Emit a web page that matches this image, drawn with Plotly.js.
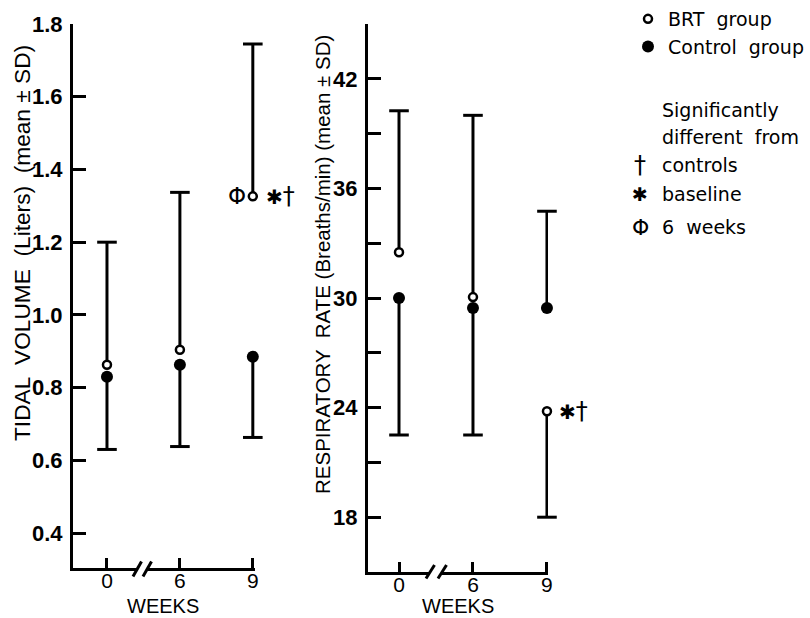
<!DOCTYPE html>
<html><head><meta charset="utf-8">
<script src="https://cdn.plot.ly/plotly-3.0.1.min.js"></script>
<style>html,body{margin:0;padding:0;background:#fff}</style>
</head><body><div id="chart" style="width:810px;height:618px"></div>
<script>
// ---- data ----
const weekLabels = ['0', '6', '9'];
const weekPos = [0, 1, 2];

// Tidal volume (Liters), mean and the SD drawn on one side (+1 up, -1 down)
const tvBrtMean = [0.863, 0.904, 1.326];
const tvBrtSd   = [0.337, 0.433, 0.419];
const tvBrtDir  = [1, 1, 1];
const tvCtlMean = [0.830, 0.863, 0.885];
const tvCtlSd   = [0.200, 0.225, 0.222];
const tvCtlDir  = [-1, -1, -1];
const tvTicks   = [0.4, 0.6, 0.8, 1.0, 1.2, 1.4, 1.6, 1.8];

// Respiratory rate (Breaths/min)
const rrBrtMean = [32.5, 30.05, 23.8];
const rrBrtSd   = [7.75, 9.95, 5.8];
const rrBrtDir  = [1, 1, -1];
const rrCtlMean = [30.0, 29.45, 29.45];
const rrCtlSd   = [7.5, 6.95, 5.3];
const rrCtlDir  = [-1, -1, 1];
const rrTicks   = [18, 21, 24, 27, 30, 33, 36, 39, 42, 45];
const rrTickText = ['18', '', '24', '', '30', '', '36', '', '42', ''];

// ---- helpers ----
const W = 810, H = 618;
const px = v => v / W;
const py = v => 1 - v / H;
const up = (sd, dir) => sd.map((s, i) => dir[i] > 0 ? s : 0);
const dn = (sd, dir) => sd.map((s, i) => dir[i] < 0 ? s : 0);
const ends = (m, sd, dir) => m.map((v, i) => v + dir[i] * sd[i]);

function errY(sd, dir) {
  return {type: 'data', symmetric: false, array: up(sd, dir), arrayminus: dn(sd, dir),
          width: 0, thickness: 3, color: 'black'};
}
function panel(xa, ya, brtM, brtS, brtD, ctlM, ctlS, ctlD, legend) {
  return [
    {x: weekPos.concat(weekPos), y: ends(brtM, brtS, brtD).concat(ends(ctlM, ctlS, ctlD)),
     xaxis: xa, yaxis: ya, type: 'scatter', mode: 'markers', showlegend: false, hoverinfo: 'skip',
     cliponaxis: false, marker: {symbol: 'line-ew', size: 14, line: {width: 3, color: 'black'}}},
    {x: weekPos, y: ctlM, xaxis: xa, yaxis: ya, type: 'scatter', mode: 'markers', cliponaxis: false,
     name: 'Control  group', showlegend: legend, legendrank: 2, error_y: errY(ctlS, ctlD),
     marker: {symbol: 'circle', size: 12, color: 'black', line: {width: 0}}},
    {x: weekPos, y: brtM, xaxis: xa, yaxis: ya, type: 'scatter', mode: 'markers', cliponaxis: false,
     name: 'BRT  group', showlegend: legend, legendrank: 1, error_y: errY(brtS, brtD),
     marker: {symbol: 'circle', size: 8, color: 'white', line: {width: 2.5, color: 'black'}}}
  ];
}

const data = [].concat(
  panel('x', 'y', tvBrtMean, tvBrtSd, tvBrtDir, tvCtlMean, tvCtlSd, tvCtlDir, true),
  panel('x2', 'y2', rrBrtMean, rrBrtSd, rrBrtDir, rrCtlMean, rrCtlSd, rrCtlDir, false)
);

const FONT = 'Liberation Sans, Arial, sans-serif';
const TFONT = 'DejaVu Sans, sans-serif';
const xCommon = {tickvals: weekPos, ticktext: weekLabels, ticks: 'inside', ticklen: 10, tickwidth: 3,
  tickcolor: 'black', showline: true, linewidth: 3, linecolor: 'black', showgrid: false,
  zeroline: false, tickfont: {family: FONT, size: 21, color: 'black'}, ticklabelstandoff: -8,
  fixedrange: true};
const yCommon = {ticks: 'inside', ticklen: 13, tickwidth: 3, tickcolor: 'black', showline: true,
  linewidth: 3, linecolor: 'black', showgrid: false, zeroline: false, ticklabelstandoff: 3,
  tickfont: {family: FONT, size: 22, color: 'black', weight: 'bold'}, fixedrange: true};

function brk(x1, x2, yAxis, s1, s2, ylo, yhi) {
  return [
    {type: 'rect', xref: 'paper', yref: 'paper', x0: px(x1), x1: px(x2), y0: py(yAxis + 3.5), y1: py(yAxis - 3.5),
     fillcolor: 'white', line: {width: 0}, layer: 'above'},
    {type: 'line', xref: 'paper', yref: 'paper', x0: px(s1), y0: py(ylo), x1: px(s1 + 8.5), y1: py(yhi),
     line: {color: 'black', width: 3}, layer: 'above'},
    {type: 'line', xref: 'paper', yref: 'paper', x0: px(s2), y0: py(ylo), x1: px(s2 + 8.5), y1: py(yhi),
     line: {color: 'black', width: 3}, layer: 'above'}
  ];
}

function txt(x, y, text, opts) {
  return Object.assign({xref: 'paper', yref: 'paper', x: px(x), y: py(y), text: text, showarrow: false,
    xanchor: 'left', yanchor: 'middle', font: {family: TFONT, size: 19, color: 'black'}}, opts || {});
}

const layout = {
  width: W, height: H, margin: {l: 0, r: 0, t: 0, b: 0},
  paper_bgcolor: 'white', plot_bgcolor: 'white',
  font: {family: FONT, color: 'black'},
  xaxis: Object.assign({}, xCommon, {domain: [px(73), px(255)], range: [-0.466, 2.03], anchor: 'y'}),
  yaxis: Object.assign({}, yCommon, {domain: [py(568), py(24)], range: [0.304, 1.8], anchor: 'x',
    tickvals: tvTicks, ticktext: tvTicks.map(v => v.toFixed(1))}),
  xaxis2: Object.assign({}, xCommon, {domain: [px(368), px(548)], range: [-0.419, 2.014], anchor: 'y2'}),
  yaxis2: Object.assign({}, yCommon, {domain: [py(572), py(24)], range: [15, 45], anchor: 'x2',
    tickvals: rrTicks, ticktext: rrTickText}),
  showlegend: true,
  legend: {x: px(628), y: py(0), xanchor: 'left', yanchor: 'top', bgcolor: 'rgba(0,0,0,0)',
    font: {family: TFONT, size: 19, color: 'black'}, tracegroupgap: 0, itemclick: false, itemdoubleclick: false},
  shapes: [].concat(
    brk(138, 147, 568, 133, 143, 576.5, 561.5),
    brk(430, 442, 572, 426, 438, 578.5, 565)
  ),
  annotations: [
    // axis titles
    txt(22, 243, 'TIDAL  VOLUME  (Liters)  (mean ± SD)', {xanchor: 'center', textangle: -90,
      font: {family: FONT, size: 22.7, color: 'black'}}),
    txt(322, 265, 'RESPIRATORY  RATE (Breaths/min) (mean ± SD)', {xanchor: 'center', textangle: -90,
      font: {family: FONT, size: 20.5, color: 'black'}}),
    txt(163, 606, 'WEEKS', {xanchor: 'center', font: {family: FONT, size: 20, color: 'black'}}),
    txt(458, 606, 'WEEKS', {xanchor: 'center', font: {family: FONT, size: 20, color: 'black'}}),
    // significance marks on data
    {xref: 'x', yref: 'y', x: weekPos[2], y: tvBrtMean[2], text: 'Φ', showarrow: false, xanchor: 'center',
      xshift: -16, font: {family: TFONT, size: 23, color: 'black'}},
    {xref: 'x', yref: 'y', x: weekPos[2], y: tvBrtMean[2], text: '✱<span style="font-size:24px">†</span>',
      showarrow: false, xanchor: 'left', xshift: 11, font: {family: TFONT, size: 20, color: 'black'}},
    {xref: 'x2', yref: 'y2', x: weekPos[2], y: rrBrtMean[2], text: '✱<span style="font-size:24px">†</span>',
      showarrow: false, xanchor: 'left', xshift: 10, font: {family: TFONT, size: 20, color: 'black'}},
    // key
    txt(660, 110, 'Significantly'),
    txt(660, 137, 'different  from'),
    txt(640, 165, '†', {xanchor: 'center', font: {family: TFONT, size: 24, color: 'black'}}),
    txt(660, 165, 'controls'),
    txt(640, 194, '✱', {xanchor: 'center', font: {family: TFONT, size: 19, color: 'black'}}),
    txt(660, 194, 'baseline'),
    txt(640, 227, 'Φ', {xanchor: 'center', font: {family: TFONT, size: 22, color: 'black'}}),
    txt(660, 227, '6  weeks')
  ]
};

Plotly.newPlot('chart', data, layout, {staticPlot: true, displayModeBar: false});
</script></body></html>
